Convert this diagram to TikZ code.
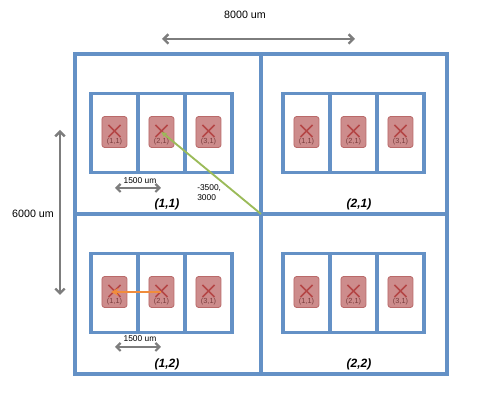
\documentclass[tikz,border=0pt]{standalone}
\usepackage{fontspec}
\setmainfont{Liberation Sans}
\usetikzlibrary{arrows.meta}
\definecolor{frameblue}{RGB}{100,145,198}
\definecolor{chipfill}{RGB}{205,140,140}
\definecolor{chipdraw}{RGB}{185,105,105}
\definecolor{crossred}{RGB}{180,70,70}
\definecolor{chiptext}{RGB}{120,60,60}
\definecolor{dimgray}{RGB}{125,125,125}
\definecolor{vecgreen}{RGB}{155,187,89}
\definecolor{vecorange}{RGB}{240,140,60}
\begin{document}
\begin{tikzpicture}[x=0.75pt,y=-0.75pt,
  frame/.style={draw=frameblue,line width=2.6pt},
  cellbox/.style={draw=frameblue,line width=2.3pt,minimum width=35.25pt,minimum height=59.25pt,inner sep=0pt},
  chip/.style={draw=chipdraw,fill=chipfill,rounded corners=2pt,minimum width=18.75pt,minimum height=23.25pt,inner sep=0pt,line width=0.6pt},
  crossline/.style={draw=crossred,line width=1.1pt},
  chiplabel/.style={text=chiptext,font=\fontsize{5.5}{6}\selectfont,inner sep=0pt},
  quadlabel/.style={font=\fontsize{9}{10}\selectfont\bfseries\itshape,inner sep=0pt},
  dimtext/.style={font=\fontsize{8}{9}\selectfont,inner sep=0pt},
  smalltext/.style={font=\fontsize{6.3}{7.5}\selectfont,inner sep=0pt},
  dimarrow/.style={draw=dimgray,line width=1.8pt,{Straight Barb[length=3.5pt,width=7pt]}-{Straight Barb[length=3.5pt,width=7pt]}},
  smallarrow/.style={draw=dimgray,line width=1.6pt,{Straight Barb[length=3pt,width=6pt]}-{Straight Barb[length=3pt,width=6pt]}}
]
\useasboundingbox (0,0) rectangle (480,402);

% outer frame
\node[frame,minimum width=279pt,minimum height=240pt,inner sep=0pt] (outer) at (261,214) {};
\coordinate (mid) at (261,214);
\coordinate (topmid) at (261,54);
\coordinate (botmid) at (261,374);
\coordinate (leftmid) at (75,214);
\coordinate (rightmid) at (447,214);
\draw[frame] (topmid) -- (botmid);
\draw[frame] (leftmid) -- (rightmid);

% quadrants
\foreach \qx/\qy/\qi/\qj/\qn in {0/0/1/1/{(1,1)},192/0/2/1/{(2,1)},0/160/1/2/{(1,2)},192/160/2/2/{(2,2)}}{
  \foreach \k/\cx in {1/114.5,2/161.5,3/208.5}{
    \node[cellbox] (cell-\qi-\qj-\k) at (\cx+\qx,133+\qy) {};
  }
  \foreach \k/\cx in {1/114.5,2/161.5,3/208.5}{
    \node[chip] (chip-\qi-\qj-\k) at (\cx+\qx,132+\qy) {};
    \draw[crossline] ([shift={(-6,-7)}]chip-\qi-\qj-\k.center) -- ([shift={(6,5)}]chip-\qi-\qj-\k.center);
    \draw[crossline] ([shift={(6,-7)}]chip-\qi-\qj-\k.center) -- ([shift={(-6,5)}]chip-\qi-\qj-\k.center);
    \node[chiplabel] (lab-\qi-\qj-\k) at ([shift={(0,10)}]chip-\qi-\qj-\k.center) {(\k,1)};
  }
  \node[quadlabel] (q-\qi-\qj) at (167+\qx,204+\qy) {\qn};
}

% 1500 um dimensions
\node[smalltext] (d1500a) at (140,181) {1500 um};
\coordinate (d1a-l) at (115,188);
\coordinate (d1a-r) at (161,188);
\draw[smallarrow] (d1a-l) -- (d1a-r);
\node[smalltext] (d1500b) at (140,339) {1500 um};
\coordinate (d1b-l) at (115,347);
\coordinate (d1b-r) at (161,347);
\draw[smallarrow] (d1b-l) -- (d1b-r);

% offset vector
\draw[vecgreen,line width=1.4pt,-{Stealth[length=4pt,width=4pt]}] (mid) -- (chip-1-1-2.center);
\node[smalltext,anchor=north west,align=left] (offs) at (197,184) {-3500,\\3000};

% orange vector
\draw[vecorange,line width=1.7pt,-{Stealth[length=5.5pt,width=6pt]}] (chip-1-2-2.center) -- ([xshift=-2.5]chip-1-2-1.center);

% overall dimensions
\node[dimtext] (d8000) at (245,15) {8000 um};
\coordinate (d8-l) at (162,39);
\coordinate (d8-r) at (355,39);
\draw[dimarrow] (d8-l) -- (d8-r);
\node[dimtext] (d6000) at (33,214) {6000 um};
\coordinate (d6-t) at (60,130);
\coordinate (d6-b) at (60,295);
\draw[dimarrow] (d6-t) -- (d6-b);
\end{tikzpicture}
\end{document}
